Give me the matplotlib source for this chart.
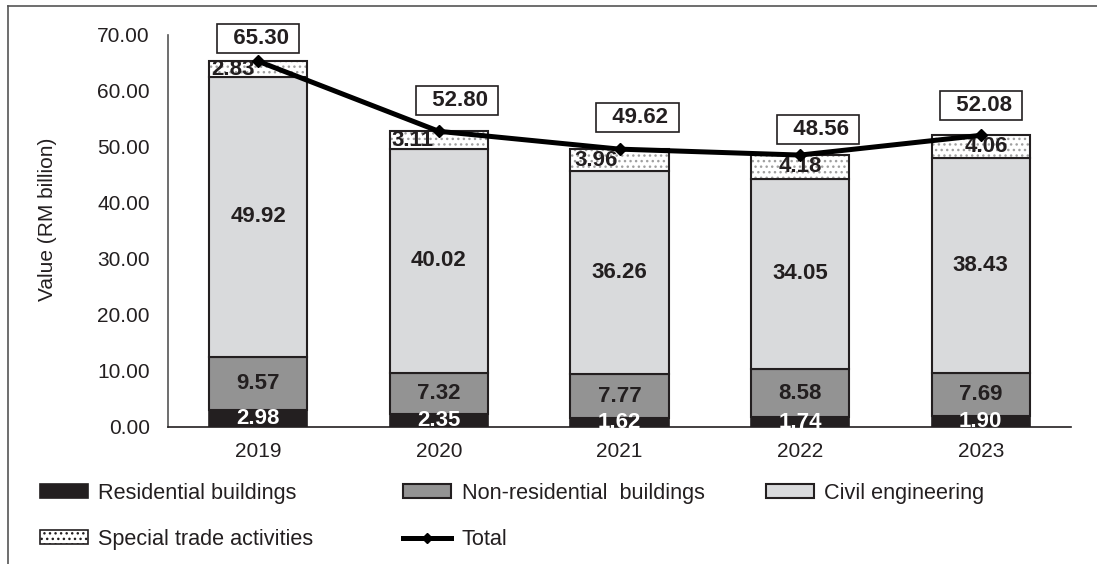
import matplotlib
matplotlib.use("Agg")
import matplotlib.pyplot as plt
import numpy as np
from matplotlib.patches import Patch
from matplotlib.lines import Line2D

plt.rcParams['font.family'] = ['Liberation Sans', 'DejaVu Sans']
plt.rcParams['hatch.linewidth'] = 1.0

years = ["2019", "2020", "2021", "2022", "2023"]
residential = [2.98, 2.35, 1.62, 1.74, 1.90]
non_residential = [9.57, 7.32, 7.77, 8.58, 7.69]
civil = [49.92, 40.02, 36.26, 34.05, 38.43]
special_trade = [2.83, 3.11, 3.96, 4.18, 4.06]
total = [65.30, 52.80, 49.62, 48.56, 52.08]
y_ticks = [0, 10, 20, 30, 40, 50, 60, 70]

# label placement tweaks (pixels)
total_label_offsets = [(0, 23), (18, 31), (18, 32), (18, 26), (0, 30)]
special_label_dx = [-25, -26, -23, 0, 6]

DARK = "#231f20"
C_RES = "#231f20"
C_NON = "#939393"
C_CIV = "#d9dadc"

fig = plt.figure(figsize=(10.97, 5.64), dpi=100)
ax = fig.add_axes([168 / 1097, 1 - 427 / 564, 903 / 1097, 392 / 564])

x = np.arange(len(years))
w = 0.543
res = np.array(residential)
non = np.array(non_residential)
civ = np.array(civil)
spe = np.array(special_trade)

ax.bar(x, res, w, color=C_RES, edgecolor=DARK, linewidth=1.2, zorder=2)
ax.bar(x, non, w, bottom=res, color=C_NON, edgecolor=DARK, linewidth=1.5, zorder=2)
ax.bar(x, civ, w, bottom=res + non, color=C_CIV, edgecolor=DARK, linewidth=1.5, zorder=2)
base_s = res + non + civ
ax.bar(x, spe, w, bottom=base_s, color="white", edgecolor="#a0a0a0", hatch="...",
       linewidth=0, zorder=2)
ax.bar(x, spe, w, bottom=base_s, fill=False, edgecolor=DARK, linewidth=1.5, zorder=2)

ax.plot(x, total, color="black", linewidth=3.6, marker="D", markersize=6.5,
        zorder=4, solid_capstyle="butt")

fs = 15
lfs = 16
for i in range(len(years)):
    ax.text(x[i], res[i] / 2, f"{residential[i]:.2f}", ha="center", va="center",
            color="white", fontsize=lfs, fontweight="bold", zorder=3)
    ax.text(x[i], res[i] + non[i] / 2, f"{non_residential[i]:.2f}", ha="center",
            va="center", color=DARK, fontsize=lfs, fontweight="bold", zorder=3)
    ax.text(x[i], res[i] + non[i] + civ[i] / 2, f"{civil[i]:.2f}", ha="center",
            va="center", color=DARK, fontsize=lfs, fontweight="bold", zorder=3)
    ax.annotate(f"{special_trade[i]:.2f}", (x[i], base_s[i] + spe[i] / 2),
                xytext=(special_label_dx[i], 0), textcoords="offset pixels",
                ha="center", va="center", color=DARK, fontsize=lfs,
                fontweight="bold", zorder=3)
    dx, dy = total_label_offsets[i]
    ax.annotate(f"  {total[i]:.2f} ", (x[i], total[i]), xytext=(dx, dy),
                textcoords="offset pixels", ha="center", va="center",
                color=DARK, fontsize=lfs, fontweight="bold", zorder=5,
                bbox=dict(boxstyle="square,pad=0.18", fc="white", ec=DARK, lw=1.2))

ax.set_xlim(-0.5, len(years) - 0.5)
ax.set_ylim(0, 70)
ax.set_yticks(y_ticks)
ax.set_yticklabels([f"{v:.2f}" for v in y_ticks])
ax.set_xticks(x)
ax.set_xticklabels(years)
ax.tick_params(axis="both", length=0, labelsize=fs, colors=DARK)
ax.tick_params(axis="y", pad=13)
ax.tick_params(axis="x", pad=11)
for s in ["top", "right"]:
    ax.spines[s].set_visible(False)
ax.spines["left"].set_color("#555555")
ax.spines["bottom"].set_color(DARK)
ax.spines["left"].set_linewidth(1.2)
ax.spines["bottom"].set_linewidth(1.2)

ax.set_ylabel("Value (RM billion)", fontsize=fs, color=DARK)
ax.yaxis.set_label_coords(-0.123, 0.53)

# legend, three columns
h_res = Patch(facecolor=C_RES, edgecolor=DARK, linewidth=1.2)
h_non = Patch(facecolor=C_NON, edgecolor=DARK, linewidth=1.5)
h_civ = Patch(facecolor=C_CIV, edgecolor=DARK, linewidth=1.5)
h_spe = Patch(facecolor="white", edgecolor=DARK, hatch="...", linewidth=1.2)
h_tot = Line2D([0], [0], color="black", linewidth=3.6, marker="D", markersize=5)

lgfs = 15.6
cols = [
    ([h_res, h_spe], ["Residential buildings", "Special trade activities"], 40),
    ([h_non, h_tot], ["Non-residential  buildings", "Total"], 403),
    ([h_civ], ["Civil engineering"], 766),
]
for handles, labels, px in cols:
    leg = fig.legend(handles, labels, loc="upper left",
                     bbox_to_anchor=(px / 1097, 1 - 483 / 564),
                     frameon=False, fontsize=lgfs, handlelength=2.2,
                     handleheight=0.6, handletextpad=0.5, labelspacing=1.15,
                     borderaxespad=0, borderpad=0)
    for t in leg.get_texts():
        t.set_color(DARK)

# outer frame lines
fig.add_artist(Line2D([8 / 1097, 8 / 1097], [0, 1 - 6 / 564], transform=fig.transFigure,
                      color="#555555", linewidth=1.2))
fig.add_artist(Line2D([8 / 1097, 1], [1 - 6 / 564, 1 - 6 / 564], transform=fig.transFigure,
                      color="#555555", linewidth=1.2))

fig.savefig("out.png", dpi=100)
